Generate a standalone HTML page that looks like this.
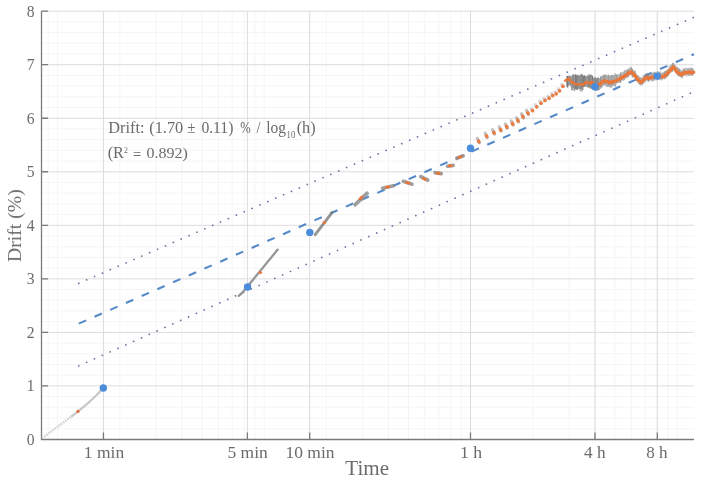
<!DOCTYPE html><html><head><meta charset="utf-8"><style>
html,body{margin:0;padding:0;background:#fff;}
body{width:703px;height:481px;overflow:hidden;}
svg{display:block;font-family:"Liberation Serif",serif;}text{will-change:transform;}
</style></head><body>
<svg width="703" height="481" viewBox="0 0 703 481">
<rect width="703" height="481" fill="#fff"/>
<path d="M41.0 428.69H694.0 M41.0 417.99H694.0 M41.0 407.28H694.0 M41.0 396.58H694.0 M41.0 375.17H694.0 M41.0 364.46H694.0 M41.0 353.76H694.0 M41.0 343.05H694.0 M41.0 321.64H694.0 M41.0 310.94H694.0 M41.0 300.24H694.0 M41.0 289.53H694.0 M41.0 268.12H694.0 M41.0 257.41H694.0 M41.0 246.71H694.0 M41.0 236.0H694.0 M41.0 214.59H694.0 M41.0 203.89H694.0 M41.0 193.18H694.0 M41.0 182.48H694.0 M41.0 161.07H694.0 M41.0 150.36H694.0 M41.0 139.66H694.0 M41.0 128.95H694.0 M41.0 107.54H694.0 M41.0 96.84H694.0 M41.0 86.13H694.0 M41.0 75.43H694.0 M41.0 54.02H694.0 M41.0 43.31H694.0 M41.0 32.61H694.0 M41.0 21.9H694.0 M48.2 11.0V439.5 M57.65 11.0V439.5 M119.81 11.0V439.5 M156.18 11.0V439.5 M181.98 11.0V439.5 M201.99 11.0V439.5 M218.34 11.0V439.5 M232.16 11.0V439.5 M244.14 11.0V439.5 M254.7 11.0V439.5 M264.15 11.0V439.5 M326.31 11.0V439.5 M362.68 11.0V439.5 M388.48 11.0V439.5 M408.49 11.0V439.5 M424.84 11.0V439.5 M438.66 11.0V439.5 M450.64 11.0V439.5 M461.2 11.0V439.5 M470.65 11.0V439.5 M532.81 11.0V439.5 M569.18 11.0V439.5 M594.98 11.0V439.5 M614.99 11.0V439.5 M631.34 11.0V439.5 M645.16 11.0V439.5 M657.14 11.0V439.5 M667.7 11.0V439.5 M677.15 11.0V439.5" stroke="#f5f5f5" stroke-width="1" fill="none"/>
<path d="M41.0 385.88H694.0 M41.0 332.35H694.0 M41.0 278.82H694.0 M41.0 225.3H694.0 M41.0 171.77H694.0 M41.0 118.25H694.0 M41.0 64.72H694.0 M41.0 11.2H694.0 M103.45 11.0V439.5 M247.4 11.0V439.5 M309.7 11.0V439.5 M470.5 11.0V439.5 M595.0 11.0V439.5 M657.3 11.0V439.5" stroke="#dcdcdc" stroke-width="1" fill="none"/>
<path d="M41.5 11.0V439.5H694.0 M41.5 385.88H48 M41.5 332.35H48 M41.5 278.82H48 M41.5 225.3H48 M41.5 171.77H48 M41.5 118.25H48 M41.5 64.72H48 M41.5 11.2H48 M103.45 439.5V432.5 M247.4 439.5V432.5 M309.7 439.5V432.5 M470.5 439.5V432.5 M595.0 439.5V432.5 M657.3 439.5V432.5" stroke="#7a7a7a" stroke-width="1.3" fill="none"/>
<g fill="#6b6b6b" font-size="16.5">
<text x="34.5" y="445.0" text-anchor="end" transform="translate(34.40 0) scale(0.95 1) translate(-34.40 0)">0</text>
<text x="34.5" y="391.5" text-anchor="end" transform="translate(34.40 0) scale(0.95 1) translate(-34.40 0)">1</text>
<text x="34.5" y="337.9" text-anchor="end" transform="translate(34.40 0) scale(0.95 1) translate(-34.40 0)">2</text>
<text x="34.5" y="284.4" text-anchor="end" transform="translate(34.40 0) scale(0.95 1) translate(-34.40 0)">3</text>
<text x="34.5" y="230.9" text-anchor="end" transform="translate(34.40 0) scale(0.95 1) translate(-34.40 0)">4</text>
<text x="34.5" y="177.4" text-anchor="end" transform="translate(34.40 0) scale(0.95 1) translate(-34.40 0)">5</text>
<text x="34.5" y="123.8" text-anchor="end" transform="translate(34.40 0) scale(0.95 1) translate(-34.40 0)">6</text>
<text x="34.5" y="70.3" text-anchor="end" transform="translate(34.40 0) scale(0.95 1) translate(-34.40 0)">7</text>
<text x="34.5" y="16.8" text-anchor="end" transform="translate(34.40 0) scale(0.95 1) translate(-34.40 0)">8</text>
<text x="104.00" y="457.8" text-anchor="middle" transform="translate(104.00 0) scale(1.06 1) translate(-104.00 0)">1 min</text>
<text x="247.60" y="457.8" text-anchor="middle" transform="translate(247.60 0) scale(1.06 1) translate(-247.60 0)">5 min</text>
<text x="310.05" y="457.8" text-anchor="middle" transform="translate(310.05 0) scale(1.06 1) translate(-310.05 0)">10 min</text>
<text x="471.15" y="457.8" text-anchor="middle" transform="translate(471.15 0) scale(1.075 1) translate(-471.15 0)">1 h</text>
<text x="594.80" y="457.8" text-anchor="middle" transform="translate(594.80 0) scale(1.045 1) translate(-594.80 0)">4 h</text>
<text x="656.90" y="457.8" text-anchor="middle" transform="translate(656.90 0) scale(1.035 1) translate(-656.90 0)">8 h</text>
</g>
<text x="367.2" y="475" text-anchor="middle" fill="#6b6b6b" font-size="20" transform="translate(367.20 0) scale(1.055 1) translate(-367.20 0)">Time</text>
<text transform="translate(21.0 225.7) rotate(-90) scale(1.038 1)" x="0" y="0" text-anchor="middle" fill="#6b6b6b" font-size="19">Drift (%)</text>
<path d="M78.8 283.3L694.0 17.3" stroke="#62789f" stroke-width="1.75" stroke-dasharray="0.01 8.573" stroke-linecap="round" fill="none"/>
<path d="M78.8 365.8L694.0 91.6" stroke="#62789f" stroke-width="1.75" stroke-dasharray="0.01 8.573" stroke-linecap="round" fill="none"/>
<path d="M78.8 323.6L694.0 54.2" stroke="#5589c8" stroke-width="2.1" stroke-dasharray="8 9.15" fill="none"/>
<path d="M42.2 438.2L50 432.4L60 425L72 416" stroke="#cdcdcd" stroke-width="2.3" stroke-dasharray="1.5 1.1" fill="none"/>
<path d="M71 416.8L78 411.4L86 404.8L96.2 395.5L103.3 388" stroke="#c8c8c8" stroke-width="2.3" stroke-linejoin="round" fill="none"/>
<circle cx="78.0" cy="411.4" r="1.6" fill="#e06a3c"/>
<path d="M238.8 295.8Q242 293.5 245 289.5L277.7 249.6" stroke="#969696" stroke-width="2.3" stroke-linecap="round" fill="none"/>
<circle cx="260.4" cy="272.6" r="1.7" fill="#ec7434" opacity="0.9"/>
<path d="M315.2 234.6L332.2 212.4" stroke="#7e7e7e" stroke-width="2.9" stroke-linecap="round" stroke-linejoin="round" fill="none" opacity="0.82"/>
<circle cx="324.3" cy="222.6" r="1.7" fill="#ec7434" opacity="0.9"/>
<path d="M355.2 204.6L367.0 193.4" stroke="#8e8e8e" stroke-width="3.9" stroke-linecap="round" fill="none" opacity="0.85"/>
<path d="M359.9 198.8L361.9 196.8" stroke="#ec7434" stroke-width="2.6" stroke-linecap="round" fill="none"/>
<path d="M382.5 188.2L393.5 185.8" stroke="#8e8e8e" stroke-width="3.6" stroke-linecap="round" fill="none" opacity="0.85"/>
<path d="M386.1 187.3L388.9 186.7" stroke="#ec7434" stroke-width="2.6" stroke-linecap="round" fill="none"/>
<path d="M403.3 181.3L412.0 184.2" stroke="#8e8e8e" stroke-width="3.6" stroke-linecap="round" fill="none" opacity="0.85"/>
<path d="M406.4 182.4L409.0 183.2" stroke="#ec7434" stroke-width="2.6" stroke-linecap="round" fill="none"/>
<path d="M420.8 176.6L427.8 180.2" stroke="#8e8e8e" stroke-width="3.6" stroke-linecap="round" fill="none" opacity="0.85"/>
<path d="M423.1 178.4L425.5 179.6" stroke="#ec7434" stroke-width="2.6" stroke-linecap="round" fill="none"/>
<path d="M435.0 172.6L441.3 173.6" stroke="#8e8e8e" stroke-width="3.6" stroke-linecap="round" fill="none" opacity="0.85"/>
<path d="M436.9 173.1L439.5 173.5" stroke="#ec7434" stroke-width="2.6" stroke-linecap="round" fill="none"/>
<path d="M447.5 166.3L453.2 165.4" stroke="#8e8e8e" stroke-width="3.6" stroke-linecap="round" fill="none" opacity="0.85"/>
<path d="M449.2 166.0L451.4 165.6" stroke="#ec7434" stroke-width="2.6" stroke-linecap="round" fill="none"/>
<path d="M456.9 158.3L463.2 155.9" stroke="#8e8e8e" stroke-width="3.6" stroke-linecap="round" fill="none" opacity="0.85"/>
<path d="M458.7 157.6L461.3 156.6" stroke="#ec7434" stroke-width="2.6" stroke-linecap="round" fill="none"/>
<path d="M477.3 138.5L479.4 142.8" stroke="#8a8a8a" stroke-width="3.2" stroke-linecap="round" fill="none" opacity="0.5"/>
<ellipse cx="478.7" cy="141.5" rx="1.8" ry="2.3" transform="rotate(-28 478.7 141.5)" fill="#ec7434" opacity="0.88"/>
<path d="M485.2 133.2L487.3 137.5" stroke="#8a8a8a" stroke-width="3.2" stroke-linecap="round" fill="none" opacity="0.5"/>
<ellipse cx="486.6" cy="136.2" rx="1.8" ry="2.3" transform="rotate(-28 486.6 136.2)" fill="#ec7434" opacity="0.88"/>
<path d="M492.5 129.7L494.6 134.0" stroke="#8a8a8a" stroke-width="3.2" stroke-linecap="round" fill="none" opacity="0.5"/>
<ellipse cx="493.9" cy="132.7" rx="1.8" ry="2.3" transform="rotate(-28 493.9 132.7)" fill="#ec7434" opacity="0.88"/>
<path d="M499.2 126.8L501.3 131.1" stroke="#8a8a8a" stroke-width="3.2" stroke-linecap="round" fill="none" opacity="0.5"/>
<ellipse cx="500.6" cy="129.8" rx="1.8" ry="2.3" transform="rotate(-28 500.6 129.8)" fill="#ec7434" opacity="0.88"/>
<path d="M505.3 123.9L507.4 128.2" stroke="#8a8a8a" stroke-width="3.2" stroke-linecap="round" fill="none" opacity="0.5"/>
<ellipse cx="506.7" cy="126.9" rx="1.8" ry="2.3" transform="rotate(-28 506.7 126.9)" fill="#ec7434" opacity="0.88"/>
<path d="M511.2 120.8L513.3 125.1" stroke="#8a8a8a" stroke-width="3.2" stroke-linecap="round" fill="none" opacity="0.5"/>
<ellipse cx="512.6" cy="123.8" rx="1.8" ry="2.3" transform="rotate(-28 512.6 123.8)" fill="#ec7434" opacity="0.88"/>
<path d="M516.5 117.6L518.6 121.9" stroke="#8a8a8a" stroke-width="3.2" stroke-linecap="round" fill="none" opacity="0.5"/>
<ellipse cx="517.9" cy="120.6" rx="1.8" ry="2.3" transform="rotate(-28 517.9 120.6)" fill="#ec7434" opacity="0.88"/>
<path d="M521.5 113.7L523.6 118.0" stroke="#8a8a8a" stroke-width="3.2" stroke-linecap="round" fill="none" opacity="0.5"/>
<ellipse cx="522.9" cy="116.7" rx="1.8" ry="2.3" transform="rotate(-28 522.9 116.7)" fill="#ec7434" opacity="0.88"/>
<path d="M526.5 110.2L528.6 114.5" stroke="#8a8a8a" stroke-width="3.2" stroke-linecap="round" fill="none" opacity="0.5"/>
<ellipse cx="527.9" cy="113.2" rx="1.8" ry="2.3" transform="rotate(-28 527.9 113.2)" fill="#ec7434" opacity="0.88"/>
<path d="M531.3 108.6L532.5 110.6" stroke="#999" stroke-width="3.2" stroke-linecap="round" fill="none" opacity="0.4"/>
<circle cx="532.5" cy="110.6" r="1.85" fill="#ec7434" opacity="0.9"/>
<path d="M535.5 104.8L536.7 106.8" stroke="#999" stroke-width="3.2" stroke-linecap="round" fill="none" opacity="0.4"/>
<circle cx="536.7" cy="106.8" r="1.85" fill="#ec7434" opacity="0.9"/>
<path d="M539.8 101.2L541.0 103.2" stroke="#999" stroke-width="3.2" stroke-linecap="round" fill="none" opacity="0.4"/>
<circle cx="541.0" cy="103.2" r="1.85" fill="#ec7434" opacity="0.9"/>
<path d="M543.8 98.4L545.0 100.4" stroke="#999" stroke-width="3.2" stroke-linecap="round" fill="none" opacity="0.4"/>
<circle cx="545.0" cy="100.4" r="1.85" fill="#ec7434" opacity="0.9"/>
<path d="M547.9 96.2L549.1 98.2" stroke="#999" stroke-width="3.2" stroke-linecap="round" fill="none" opacity="0.4"/>
<circle cx="549.1" cy="98.2" r="1.85" fill="#ec7434" opacity="0.9"/>
<path d="M551.5 93.6L552.7 95.6" stroke="#999" stroke-width="3.2" stroke-linecap="round" fill="none" opacity="0.4"/>
<circle cx="552.7" cy="95.6" r="1.85" fill="#ec7434" opacity="0.9"/>
<path d="M555.0 91.8L556.2 93.8" stroke="#999" stroke-width="3.2" stroke-linecap="round" fill="none" opacity="0.4"/>
<circle cx="556.2" cy="93.8" r="1.85" fill="#ec7434" opacity="0.9"/>
<path d="M558.3 88.8L559.5 90.8" stroke="#999" stroke-width="3.2" stroke-linecap="round" fill="none" opacity="0.4"/>
<circle cx="559.5" cy="90.8" r="1.85" fill="#ec7434" opacity="0.9"/>
<path d="M561.7 84.3L562.9 86.3" stroke="#999" stroke-width="3.2" stroke-linecap="round" fill="none" opacity="0.4"/>
<circle cx="562.9" cy="86.3" r="1.85" fill="#ec7434" opacity="0.9"/>
<defs><filter id="bl" x="-5%" y="-30%" width="110%" height="160%"><feGaussianBlur stdDeviation="0.55"/></filter><filter id="bl2" x="-5%" y="-30%" width="110%" height="160%"><feGaussianBlur stdDeviation="0.35"/></filter></defs>
<g filter="url(#bl2)" fill="none"><path d="M566.80 75.9V86.5" stroke="#767676" stroke-width="1.1" opacity="0.85"/><path d="M567.60 75.9V87.5" stroke="#767676" stroke-width="1.1" opacity="1.0"/><path d="M568.40 75.4V86.3" stroke="#767676" stroke-width="1.1" opacity="0.65"/><path d="M569.20 76.2V85.2" stroke="#767676" stroke-width="1.1" opacity="0.85"/><path d="M570.00 75.6V84.8" stroke="#767676" stroke-width="1.1" opacity="0.65"/><path d="M570.80 76.3V86.6" stroke="#767676" stroke-width="1.1" opacity="0.85"/><path d="M571.60 75.9V90.3" stroke="#767676" stroke-width="1.1" opacity="0.65"/><path d="M572.40 75.2V90.2" stroke="#767676" stroke-width="1.1" opacity="0.65"/><path d="M573.20 73.9V88.2" stroke="#767676" stroke-width="1.1" opacity="1.0"/><path d="M574.00 75.1V90.7" stroke="#767676" stroke-width="1.1" opacity="0.85"/><path d="M574.80 74.8V91.0" stroke="#767676" stroke-width="1.1" opacity="0.65"/><path d="M575.60 74.3V89.1" stroke="#767676" stroke-width="1.1" opacity="1.0"/><path d="M576.40 75.3V89.7" stroke="#767676" stroke-width="1.1" opacity="0.85"/><path d="M577.20 74.7V90.0" stroke="#767676" stroke-width="1.1" opacity="1.0"/><path d="M578.00 75.4V89.2" stroke="#767676" stroke-width="1.1" opacity="1.0"/><path d="M578.80 74.9V88.2" stroke="#767676" stroke-width="1.1" opacity="0.65"/><path d="M579.60 75.5V89.5" stroke="#767676" stroke-width="1.1" opacity="0.85"/><path d="M580.40 74.7V91.4" stroke="#767676" stroke-width="1.1" opacity="0.65"/><path d="M581.20 73.8V88.8" stroke="#767676" stroke-width="1.1" opacity="1.0"/><path d="M582.00 74.8V91.4" stroke="#767676" stroke-width="1.1" opacity="0.85"/><path d="M582.80 74.7V90.0" stroke="#767676" stroke-width="1.1" opacity="1.0"/><path d="M583.60 76.1V87.0" stroke="#767676" stroke-width="1.1" opacity="1.0"/><path d="M584.40 75.0V86.4" stroke="#767676" stroke-width="1.1" opacity="0.85"/><path d="M585.20 76.1V86.7" stroke="#767676" stroke-width="1.1" opacity="1.0"/><path d="M586.00 76.0V86.4" stroke="#767676" stroke-width="1.1" opacity="0.85"/><path d="M586.80 76.2V86.8" stroke="#767676" stroke-width="1.1" opacity="0.65"/><path d="M587.60 74.7V87.6" stroke="#767676" stroke-width="1.1" opacity="0.65"/><path d="M588.40 76.1V87.4" stroke="#767676" stroke-width="1.1" opacity="0.85"/><path d="M589.20 74.5V87.4" stroke="#767676" stroke-width="1.1" opacity="1.0"/><path d="M590.00 74.2V88.5" stroke="#767676" stroke-width="1.1" opacity="0.65"/><path d="M590.80 75.0V88.5" stroke="#767676" stroke-width="1.1" opacity="1.0"/><path d="M591.60 74.7V88.8" stroke="#767676" stroke-width="1.1" opacity="0.65"/><path d="M592.40 75.8V86.6" stroke="#767676" stroke-width="1.1" opacity="1.0"/><path d="M593.20 77.4V89.9" stroke="#767676" stroke-width="1.1" opacity="0.65"/><path d="M594.00 77.7V90.0" stroke="#767676" stroke-width="1.1" opacity="1.0"/><path d="M594.80 77.1V89.8" stroke="#767676" stroke-width="1.1" opacity="0.65"/><path d="M595.60 77.5V90.7" stroke="#767676" stroke-width="1.1" opacity="0.85"/><path d="M596.40 78.2V89.6" stroke="#767676" stroke-width="1.1" opacity="0.65"/><path d="M597.20 78.0V90.7" stroke="#767676" stroke-width="1.1" opacity="0.85"/><path d="M598.00 77.4V89.7" stroke="#767676" stroke-width="1.1" opacity="1.0"/></g>
<g filter="url(#bl)" fill="none"><path d="M596.50 79.4V90.6" stroke="#8a8a8a" stroke-width="1.1" opacity="0.5"/><path d="M597.30 79.8V90.4" stroke="#8a8a8a" stroke-width="1.1" opacity="0.5"/><path d="M598.10 77.8V89.7" stroke="#8a8a8a" stroke-width="1.1" opacity="0.8"/><path d="M598.90 78.8V90.3" stroke="#8a8a8a" stroke-width="1.1" opacity="0.8"/><path d="M599.70 78.0V90.0" stroke="#8a8a8a" stroke-width="1.1" opacity="0.65"/><path d="M600.50 76.6V88.5" stroke="#8a8a8a" stroke-width="1.1" opacity="0.8"/><path d="M601.30 76.3V87.4" stroke="#8a8a8a" stroke-width="1.1" opacity="0.8"/><path d="M602.10 76.0V87.5" stroke="#8a8a8a" stroke-width="1.1" opacity="0.8"/><path d="M602.90 75.3V85.7" stroke="#8a8a8a" stroke-width="1.1" opacity="0.5"/><path d="M603.70 74.6V85.4" stroke="#8a8a8a" stroke-width="1.1" opacity="0.8"/><path d="M604.50 74.9V84.8" stroke="#8a8a8a" stroke-width="1.1" opacity="0.8"/><path d="M605.30 75.0V85.2" stroke="#8a8a8a" stroke-width="1.1" opacity="0.8"/><path d="M606.10 73.8V87.0" stroke="#8a8a8a" stroke-width="1.1" opacity="0.5"/><path d="M606.90 75.2V86.5" stroke="#8a8a8a" stroke-width="1.1" opacity="0.8"/><path d="M607.70 75.6V86.9" stroke="#8a8a8a" stroke-width="1.1" opacity="0.65"/><path d="M608.50 74.6V86.5" stroke="#8a8a8a" stroke-width="1.1" opacity="0.8"/><path d="M609.30 76.2V86.6" stroke="#8a8a8a" stroke-width="1.1" opacity="0.65"/><path d="M610.10 75.2V87.6" stroke="#8a8a8a" stroke-width="1.1" opacity="0.8"/><path d="M610.90 75.6V87.6" stroke="#8a8a8a" stroke-width="1.1" opacity="0.8"/><path d="M611.70 74.8V87.6" stroke="#8a8a8a" stroke-width="1.1" opacity="0.65"/><path d="M612.50 75.3V86.1" stroke="#8a8a8a" stroke-width="1.1" opacity="0.65"/><path d="M613.30 75.1V85.6" stroke="#8a8a8a" stroke-width="1.1" opacity="0.8"/><path d="M614.10 75.3V86.0" stroke="#8a8a8a" stroke-width="1.1" opacity="0.65"/><path d="M614.90 73.2V86.6" stroke="#8a8a8a" stroke-width="1.1" opacity="0.65"/><path d="M615.70 73.7V86.4" stroke="#8a8a8a" stroke-width="1.1" opacity="0.65"/><path d="M616.50 74.6V83.5" stroke="#8a8a8a" stroke-width="1.1" opacity="0.8"/><path d="M617.30 74.3V83.2" stroke="#8a8a8a" stroke-width="1.1" opacity="0.65"/><path d="M618.10 74.4V83.0" stroke="#8a8a8a" stroke-width="1.1" opacity="0.5"/><path d="M618.90 73.8V82.8" stroke="#8a8a8a" stroke-width="1.1" opacity="0.5"/><path d="M619.70 74.3V83.0" stroke="#8a8a8a" stroke-width="1.1" opacity="0.65"/><path d="M620.50 72.4V82.8" stroke="#8a8a8a" stroke-width="1.1" opacity="0.8"/><path d="M621.30 72.3V81.5" stroke="#8a8a8a" stroke-width="1.1" opacity="0.65"/><path d="M622.10 73.3V80.7" stroke="#8a8a8a" stroke-width="1.1" opacity="0.5"/><path d="M622.90 72.1V80.2" stroke="#8a8a8a" stroke-width="1.1" opacity="0.65"/><path d="M623.70 71.2V80.7" stroke="#8a8a8a" stroke-width="1.1" opacity="0.5"/><path d="M624.50 70.4V80.1" stroke="#8a8a8a" stroke-width="1.1" opacity="0.65"/><path d="M625.30 69.9V78.3" stroke="#8a8a8a" stroke-width="1.1" opacity="0.5"/><path d="M626.10 70.1V78.4" stroke="#8a8a8a" stroke-width="1.1" opacity="0.8"/><path d="M626.90 69.9V77.7" stroke="#8a8a8a" stroke-width="1.1" opacity="0.65"/><path d="M627.70 68.7V77.3" stroke="#8a8a8a" stroke-width="1.1" opacity="0.8"/><path d="M628.50 69.3V77.2" stroke="#8a8a8a" stroke-width="1.1" opacity="0.65"/><path d="M629.30 67.5V75.8" stroke="#8a8a8a" stroke-width="1.1" opacity="0.5"/><path d="M630.10 68.1V74.8" stroke="#8a8a8a" stroke-width="1.1" opacity="0.65"/><path d="M630.90 66.8V75.1" stroke="#8a8a8a" stroke-width="1.1" opacity="0.8"/><path d="M631.70 67.4V75.7" stroke="#8a8a8a" stroke-width="1.1" opacity="0.8"/><path d="M632.50 68.8V77.5" stroke="#8a8a8a" stroke-width="1.1" opacity="0.8"/><path d="M633.30 70.5V77.0" stroke="#8a8a8a" stroke-width="1.1" opacity="0.65"/><path d="M634.10 70.6V77.4" stroke="#8a8a8a" stroke-width="1.1" opacity="0.65"/><path d="M634.90 70.6V78.4" stroke="#8a8a8a" stroke-width="1.1" opacity="0.8"/><path d="M635.70 71.4V80.4" stroke="#8a8a8a" stroke-width="1.1" opacity="0.5"/><path d="M636.50 74.3V81.2" stroke="#8a8a8a" stroke-width="1.1" opacity="0.65"/><path d="M637.30 75.3V81.5" stroke="#8a8a8a" stroke-width="1.1" opacity="0.65"/><path d="M638.10 75.1V83.7" stroke="#8a8a8a" stroke-width="1.1" opacity="0.5"/><path d="M638.90 75.9V84.3" stroke="#8a8a8a" stroke-width="1.1" opacity="0.65"/><path d="M639.70 77.2V84.7" stroke="#8a8a8a" stroke-width="1.1" opacity="0.65"/><path d="M640.50 77.1V85.4" stroke="#8a8a8a" stroke-width="1.1" opacity="0.65"/><path d="M641.30 78.5V84.9" stroke="#8a8a8a" stroke-width="1.1" opacity="0.5"/><path d="M642.10 77.4V85.5" stroke="#8a8a8a" stroke-width="1.1" opacity="0.65"/><path d="M642.90 76.4V83.9" stroke="#8a8a8a" stroke-width="1.1" opacity="0.8"/><path d="M643.70 75.3V83.5" stroke="#8a8a8a" stroke-width="1.1" opacity="0.65"/><path d="M644.50 74.9V82.1" stroke="#8a8a8a" stroke-width="1.1" opacity="0.5"/><path d="M645.30 74.3V82.2" stroke="#8a8a8a" stroke-width="1.1" opacity="0.65"/><path d="M646.10 72.9V80.6" stroke="#8a8a8a" stroke-width="1.1" opacity="0.65"/><path d="M646.90 72.7V81.3" stroke="#8a8a8a" stroke-width="1.1" opacity="0.5"/><path d="M647.70 73.4V80.9" stroke="#8a8a8a" stroke-width="1.1" opacity="0.65"/><path d="M648.50 74.1V81.7" stroke="#8a8a8a" stroke-width="1.1" opacity="0.8"/><path d="M649.30 73.3V81.3" stroke="#8a8a8a" stroke-width="1.1" opacity="0.65"/><path d="M650.10 73.1V80.3" stroke="#8a8a8a" stroke-width="1.1" opacity="0.5"/><path d="M650.90 73.7V80.2" stroke="#8a8a8a" stroke-width="1.1" opacity="0.5"/><path d="M651.70 73.0V81.5" stroke="#8a8a8a" stroke-width="1.1" opacity="0.65"/><path d="M652.50 73.1V81.0" stroke="#8a8a8a" stroke-width="1.1" opacity="0.5"/><path d="M653.30 72.3V81.3" stroke="#8a8a8a" stroke-width="1.1" opacity="0.8"/><path d="M654.10 71.9V80.1" stroke="#8a8a8a" stroke-width="1.1" opacity="0.5"/><path d="M654.90 71.8V80.5" stroke="#8a8a8a" stroke-width="1.1" opacity="0.8"/><path d="M655.70 72.5V79.0" stroke="#8a8a8a" stroke-width="1.1" opacity="0.65"/><path d="M656.50 73.1V79.1" stroke="#8a8a8a" stroke-width="1.1" opacity="0.8"/><path d="M657.30 71.2V80.5" stroke="#8a8a8a" stroke-width="1.1" opacity="0.65"/><path d="M658.10 71.5V78.7" stroke="#8a8a8a" stroke-width="1.1" opacity="0.65"/><path d="M658.90 71.8V80.1" stroke="#8a8a8a" stroke-width="1.1" opacity="0.8"/><path d="M659.70 72.4V79.3" stroke="#8a8a8a" stroke-width="1.1" opacity="0.65"/><path d="M660.50 71.3V79.7" stroke="#8a8a8a" stroke-width="1.1" opacity="0.65"/><path d="M661.30 73.1V80.7" stroke="#8a8a8a" stroke-width="1.1" opacity="0.5"/><path d="M662.10 73.0V79.7" stroke="#8a8a8a" stroke-width="1.1" opacity="0.8"/><path d="M662.90 72.2V79.3" stroke="#8a8a8a" stroke-width="1.1" opacity="0.65"/><path d="M663.70 71.9V79.1" stroke="#8a8a8a" stroke-width="1.1" opacity="0.5"/><path d="M664.50 71.2V78.9" stroke="#8a8a8a" stroke-width="1.1" opacity="0.8"/><path d="M665.30 71.1V79.5" stroke="#8a8a8a" stroke-width="1.1" opacity="0.5"/><path d="M666.10 70.5V77.9" stroke="#8a8a8a" stroke-width="1.1" opacity="0.8"/><path d="M666.90 69.7V77.2" stroke="#8a8a8a" stroke-width="1.1" opacity="0.8"/><path d="M667.70 69.6V76.4" stroke="#8a8a8a" stroke-width="1.1" opacity="0.65"/><path d="M668.50 68.4V75.7" stroke="#8a8a8a" stroke-width="1.1" opacity="0.65"/><path d="M669.30 66.1V74.6" stroke="#8a8a8a" stroke-width="1.1" opacity="0.5"/><path d="M670.10 66.0V73.2" stroke="#8a8a8a" stroke-width="1.1" opacity="0.5"/><path d="M670.90 64.8V72.5" stroke="#8a8a8a" stroke-width="1.1" opacity="0.8"/><path d="M671.70 64.2V71.7" stroke="#8a8a8a" stroke-width="1.1" opacity="0.5"/><path d="M672.50 63.0V71.8" stroke="#8a8a8a" stroke-width="1.1" opacity="0.8"/><path d="M673.30 62.6V69.5" stroke="#8a8a8a" stroke-width="1.1" opacity="0.65"/><path d="M674.10 63.5V70.9" stroke="#8a8a8a" stroke-width="1.1" opacity="0.65"/><path d="M674.90 65.5V71.8" stroke="#8a8a8a" stroke-width="1.1" opacity="0.65"/><path d="M675.70 65.0V72.4" stroke="#8a8a8a" stroke-width="1.1" opacity="0.5"/><path d="M676.50 67.1V74.3" stroke="#8a8a8a" stroke-width="1.1" opacity="0.65"/><path d="M677.30 66.9V74.7" stroke="#8a8a8a" stroke-width="1.1" opacity="0.65"/><path d="M678.10 67.4V76.0" stroke="#8a8a8a" stroke-width="1.1" opacity="0.65"/><path d="M678.90 68.3V76.4" stroke="#8a8a8a" stroke-width="1.1" opacity="0.8"/><path d="M679.70 68.8V76.4" stroke="#8a8a8a" stroke-width="1.1" opacity="0.8"/><path d="M680.50 70.2V76.9" stroke="#8a8a8a" stroke-width="1.1" opacity="0.65"/><path d="M681.30 70.4V77.8" stroke="#8a8a8a" stroke-width="1.1" opacity="0.5"/><path d="M682.10 70.7V78.3" stroke="#8a8a8a" stroke-width="1.1" opacity="0.8"/><path d="M682.90 68.4V76.2" stroke="#8a8a8a" stroke-width="1.1" opacity="0.65"/><path d="M683.70 68.7V75.9" stroke="#8a8a8a" stroke-width="1.1" opacity="0.65"/><path d="M684.50 68.5V74.7" stroke="#8a8a8a" stroke-width="1.1" opacity="0.65"/><path d="M685.30 67.9V76.2" stroke="#8a8a8a" stroke-width="1.1" opacity="0.5"/><path d="M686.10 67.5V74.9" stroke="#8a8a8a" stroke-width="1.1" opacity="0.5"/><path d="M686.90 68.3V76.8" stroke="#8a8a8a" stroke-width="1.1" opacity="0.5"/><path d="M687.70 68.3V74.8" stroke="#8a8a8a" stroke-width="1.1" opacity="0.65"/><path d="M688.50 68.1V75.9" stroke="#8a8a8a" stroke-width="1.1" opacity="0.5"/><path d="M689.30 67.9V76.0" stroke="#8a8a8a" stroke-width="1.1" opacity="0.65"/><path d="M690.10 67.8V75.8" stroke="#8a8a8a" stroke-width="1.1" opacity="0.5"/><path d="M690.90 67.6V75.4" stroke="#8a8a8a" stroke-width="1.1" opacity="0.8"/><path d="M691.70 68.0V74.9" stroke="#8a8a8a" stroke-width="1.1" opacity="0.65"/><path d="M692.50 68.3V76.0" stroke="#8a8a8a" stroke-width="1.1" opacity="0.65"/><path d="M693.30 68.7V74.8" stroke="#8a8a8a" stroke-width="1.1" opacity="0.65"/></g>
<polyline points="565.2,80.6 568.7,78.6 571.8,82.2 574.9,84.0 579.6,84.5 583.5,84.8 584.8,82.7 591.5,82.7 594.9,85.5" stroke="#ec7434" stroke-width="2.7" stroke-linejoin="round" stroke-linecap="round" fill="none" opacity="0.92"/>
<polyline points="591.5,82.7 594.9,85.5 599.5,84.4 602.0,82.2 604.7,80.9 607.5,81.6 610.0,82.6 613.0,81.8 615.8,80.9 619.0,79.2 622.2,77.4 625.0,75.8 628.0,73.6 630.8,71.9 634.6,75.0 637.9,79.8 641.2,82.3 644.2,79.2 646.7,77.3 648.7,78.6 651.2,77.5 654.0,77.0 657.2,76.4 662.0,76.8 665.3,75.7 668.8,71.8 673.3,66.8 677.2,72.2 681.6,74.8 684.5,72.4 687.0,72.8 689.4,72.0 691.5,72.8 693.6,72.2" stroke="#ec7434" stroke-width="3.5" stroke-linejoin="round" stroke-linecap="round" fill="none" opacity="0.95"/>
<circle cx="103.3" cy="388.0" r="3.7" fill="#4b8ddb"/>
<circle cx="247.6" cy="287.0" r="3.7" fill="#4b8ddb"/>
<circle cx="309.8" cy="232.4" r="3.7" fill="#4b8ddb"/>
<circle cx="470.5" cy="148.2" r="3.7" fill="#4b8ddb"/>
<circle cx="594.9" cy="86.7" r="3.7" fill="#4b8ddb"/>
<circle cx="657.2" cy="76.1" r="3.7" fill="#4b8ddb"/>
<text y="133.1" fill="#6b6b6b" font-size="16.3"><tspan x="108.3">Drift:</tspan><tspan x="149.3">(1.70</tspan><tspan x="187.2" textLength="8.2" lengthAdjust="spacingAndGlyphs">±</tspan><tspan x="201.4" textLength="32" lengthAdjust="spacingAndGlyphs">0.11)</tspan><tspan x="240.2" textLength="10.5" lengthAdjust="spacingAndGlyphs">%</tspan><tspan x="256.6" textLength="4" lengthAdjust="spacingAndGlyphs">/</tspan><tspan x="266.3" textLength="19.8" lengthAdjust="spacingAndGlyphs">log</tspan><tspan x="286.6" dy="5.2" font-size="9.3" textLength="8.6" lengthAdjust="spacingAndGlyphs">10</tspan><tspan x="296.7" dy="-5.2">(h)</tspan></text>
<text y="158.4" fill="#6b6b6b" font-size="16.3"><tspan x="107.7">(R</tspan><tspan x="124.0" dy="-5.6" font-size="7.8">2</tspan><tspan x="132.9" dy="7.6" textLength="8.2" lengthAdjust="spacingAndGlyphs">=</tspan><tspan x="146.5" dy="-2" font-size="15.6" textLength="41.4" lengthAdjust="spacingAndGlyphs">0.892)</tspan></text>
</svg></body></html>
